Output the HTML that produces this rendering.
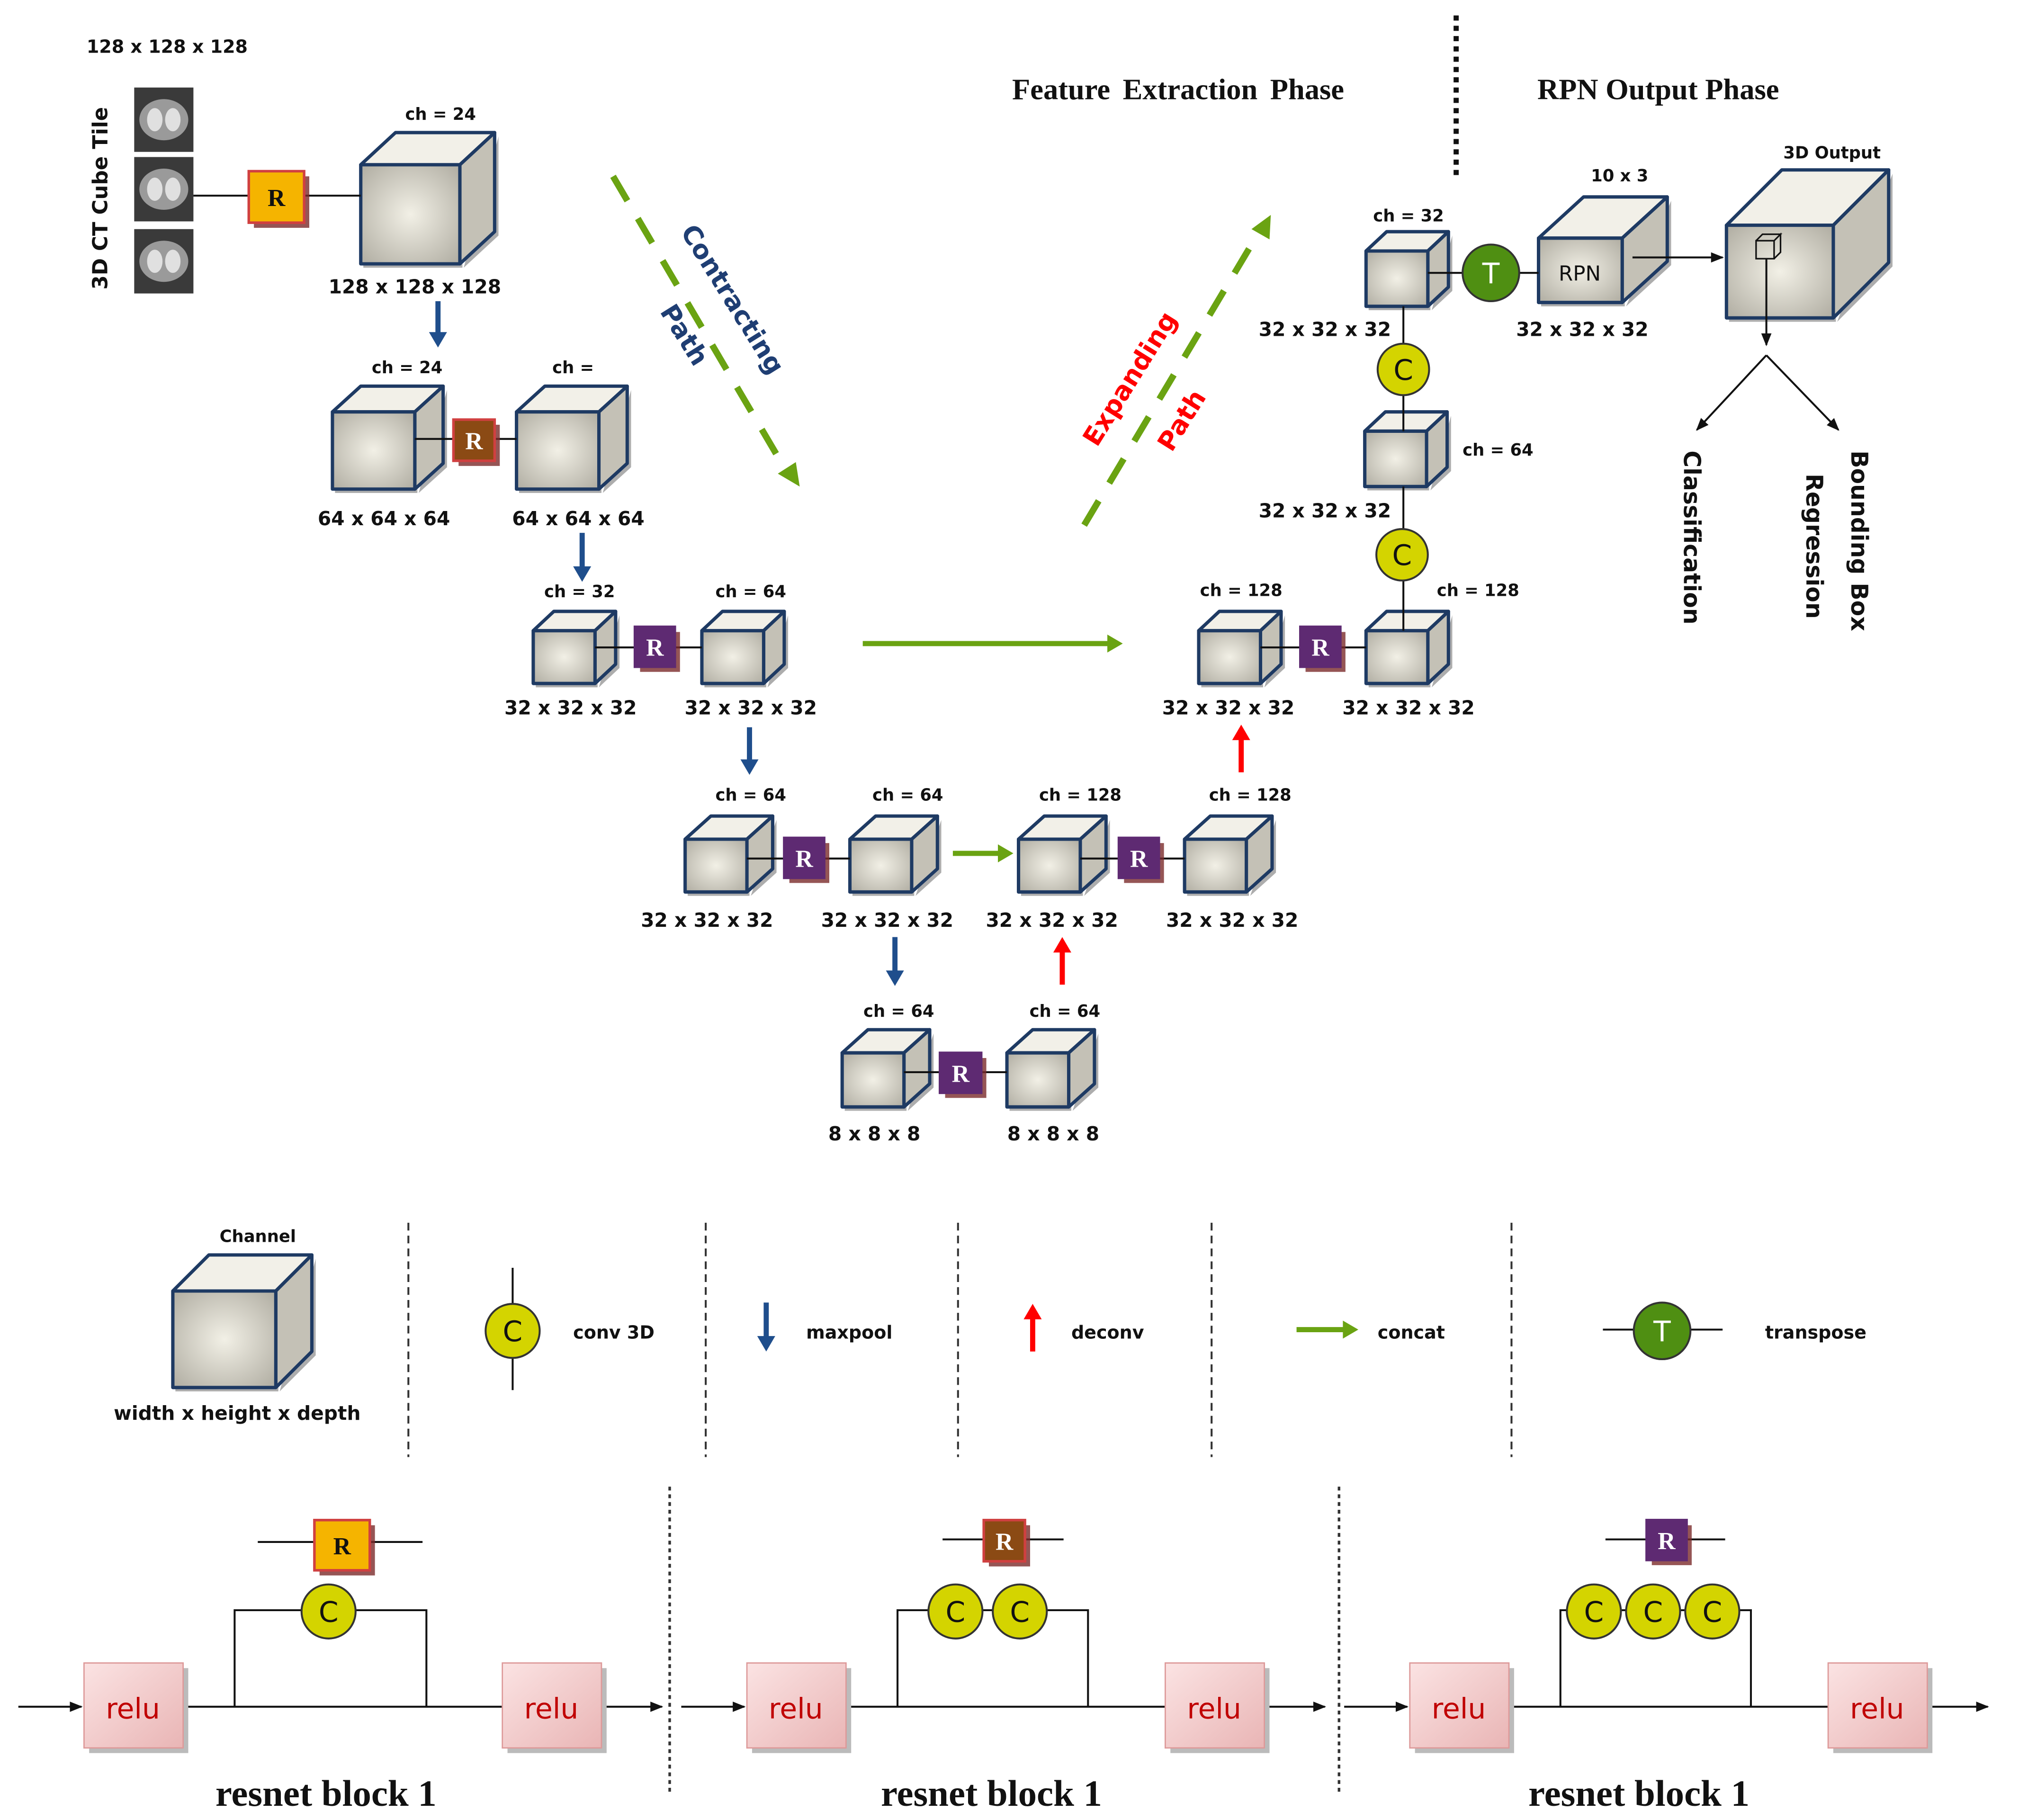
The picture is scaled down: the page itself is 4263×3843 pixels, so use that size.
<!DOCTYPE html>
<html><head><meta charset="utf-8"><style>
html,body{margin:0;padding:0;background:#fff}
svg{display:block}
text{font-family:"DejaVu Sans","Liberation Sans",sans-serif;font-weight:bold;fill:#111}
.s{font-family:"Liberation Serif",serif}
</style></head><body>
<svg id="g" width="4263" height="3843" viewBox="0 0 1568 1414" xmlns="http://www.w3.org/2000/svg">
<defs>
<radialGradient id="fg" cx="0.5" cy="0.5" r="0.65"><stop offset="0" stop-color="#f2f0e6"/><stop offset="1" stop-color="#b4b1a6"/></radialGradient>
<linearGradient id="rl" x1="0" y1="0" x2="1" y2="1"><stop offset="0" stop-color="#fbe3e3"/><stop offset="1" stop-color="#e9b5b5"/></linearGradient>
<marker id="ak" markerWidth="10" markerHeight="10" refX="9" refY="5" orient="auto" markerUnits="userSpaceOnUse"><path d="M0,1 L10,5 L0,9 z" fill="#111"/></marker>
</defs>
<g id="cubes"></g>
<g id="misc"></g>
<text x="67" y="41" font-size="14">128 x 128 x 128</text>
<text transform="translate(83,225) rotate(-90)" font-size="16">3D CT  Cube Tile</text>
<text x="342" y="93" font-size="13" text-anchor="middle">ch = 24</text>
<text x="322" y="228" font-size="15" text-anchor="middle">128 x 128 x 128</text>
<text x="316" y="290" font-size="13" text-anchor="middle">ch = 24</text>
<text x="445" y="290" font-size="13" text-anchor="middle">ch =</text>
<text x="298" y="408" font-size="15" text-anchor="middle">64 x 64 x 64</text>
<text x="449" y="408" font-size="15" text-anchor="middle">64 x 64 x 64</text>
<text x="450" y="464" font-size="13" text-anchor="middle">ch = 32</text>
<text x="583" y="464" font-size="13" text-anchor="middle">ch = 64</text>
<text x="443" y="555" font-size="15" text-anchor="middle">32 x 32 x 32</text>
<text x="583" y="555" font-size="15" text-anchor="middle">32 x 32 x 32</text>
<text x="583" y="622" font-size="13" text-anchor="middle">ch = 64</text>
<text x="705" y="622" font-size="13" text-anchor="middle">ch = 64</text>
<text x="839" y="622" font-size="13" text-anchor="middle">ch = 128</text>
<text x="971" y="622" font-size="13" text-anchor="middle">ch = 128</text>
<text x="549" y="720" font-size="15" text-anchor="middle">32 x 32 x 32</text>
<text x="689" y="720" font-size="15" text-anchor="middle">32 x 32 x 32</text>
<text x="817" y="720" font-size="15" text-anchor="middle">32 x 32 x 32</text>
<text x="957" y="720" font-size="15" text-anchor="middle">32 x 32 x 32</text>
<text x="698" y="790" font-size="13" text-anchor="middle">ch = 64</text>
<text x="827" y="790" font-size="13" text-anchor="middle">ch = 64</text>
<text x="679" y="886" font-size="15" text-anchor="middle">8 x 8 x 8</text>
<text x="818" y="886" font-size="15" text-anchor="middle">8 x 8 x 8</text>
<text x="964" y="463" font-size="13" text-anchor="middle">ch = 128</text>
<text x="1148" y="463" font-size="13" text-anchor="middle">ch = 128</text>
<text x="954" y="555" font-size="15" text-anchor="middle">32 x 32 x 32</text>
<text x="1094" y="555" font-size="15" text-anchor="middle">32 x 32 x 32</text>
<text x="1029" y="402" font-size="15" text-anchor="middle">32 x 32 x 32</text>
<text x="1136" y="354" font-size="13">ch = 64</text>
<text x="1094" y="172" font-size="13" text-anchor="middle">ch = 32</text>
<text x="1029" y="261" font-size="15" text-anchor="middle">32 x 32 x 32</text>
<text x="1229" y="261" font-size="15" text-anchor="middle">32 x 32 x 32</text>
<text x="1258" y="141" font-size="13" text-anchor="middle">10 x 3</text>
<text x="1423" y="123" font-size="13" text-anchor="middle">3D Output</text>
<text x="1227" y="218" font-size="16" text-anchor="middle" style="font-weight:normal">RPN</text>
<text class="s" x="915" y="77" font-size="23" text-anchor="middle" word-spacing="4">Feature  Extraction Phase</text>
<text class="s" x="1288" y="77" font-size="23" text-anchor="middle">RPN Output Phase</text>
<text transform="translate(528,180) rotate(58)" font-size="20" style="fill:#1f3e73">Contracting</text>
<text transform="translate(512,242) rotate(58)" font-size="20" style="fill:#1f3e73">Path</text>
<text transform="translate(852,348) rotate(-58)" font-size="20" style="fill:#f00">Expanding</text>
<text transform="translate(910,352) rotate(-58)" font-size="20" style="fill:#f00">Path</text>
<text transform="translate(1308,350) rotate(90)" font-size="18">Classification</text>
<text transform="translate(1403,368) rotate(90)" font-size="18">Regression</text>
<text transform="translate(1438,350) rotate(90)" font-size="18">Bounding Box</text>
<text x="200" y="965" font-size="13" text-anchor="middle">Channel</text>
<text x="184" y="1103" font-size="15" text-anchor="middle">width x height x  depth</text>
<text x="445" y="1040" font-size="14">conv 3D</text>
<text x="626" y="1040" font-size="14">maxpool</text>
<text x="832" y="1040" font-size="14">deconv</text>
<text x="1070" y="1040" font-size="14">concat</text>
<text x="1371" y="1040" font-size="14">transpose</text>
<text class="s" x="253" y="1403" font-size="29" text-anchor="middle">resnet block 1</text>
<text class="s" x="770" y="1403" font-size="29" text-anchor="middle">resnet block 1</text>
<text class="s" x="1273" y="1403" font-size="29" text-anchor="middle">resnet block 1</text>
<g id="labels"></g>
</svg>
<script>
var NS="http://www.w3.org/2000/svg";
function el(par,tag,a,txt){var e=document.createElementNS(NS,tag);for(var k in a)e.setAttribute(k,a[k]);if(txt)e.textContent=txt;document.getElementById(par).appendChild(e);return e;}
function cube(x,y,w,h,dx,dy){
 var c='cubes',s={stroke:'#1e3a63','stroke-width':2.6,'stroke-linejoin':'round'};
 el(c,'path',{d:'M'+(x+w+3)+','+(y+h+3)+' L'+(x+w+dx+3)+','+(y+h-dy+3)+' L'+(x+w+dx+3)+','+(y-dy+3)+' z',fill:'#777','opacity':0.6});
 el(c,'rect',{x:x+2,y:y+3,width:w,height:h,fill:'#777',opacity:0.6});
 var t=Object.assign({d:'M'+x+','+y+' L'+(x+dx)+','+(y-dy)+' L'+(x+w+dx)+','+(y-dy)+' L'+(x+w)+','+y+' z',fill:'#f2f0e8'},s);el(c,'path',t);
 t=Object.assign({d:'M'+(x+w)+','+y+' L'+(x+w+dx)+','+(y-dy)+' L'+(x+w+dx)+','+(y+h-dy)+' L'+(x+w)+','+(y+h)+' z',fill:'#c4c1b6'},s);el(c,'path',t);
 t=Object.assign({x:x,y:y,width:w,height:h,fill:'url(#fg)'},s);el(c,'rect',t);
}
function line(x1,y1,x2,y2,col,w,extra){var a={x1:x1,y1:y1,x2:x2,y2:y2,stroke:col||'#111','stroke-width':w||1.5};for(var k in extra)a[k]=extra[k];el('misc','line',a);}
function rbox(x,y,w,h,fill,brd){el('labels','rect',{x:x+4,y:y+4,width:w,height:h,fill:'#7a2a2a',opacity:0.8});el('labels','rect',{x:x,y:y,width:w,height:h,fill:fill,stroke:brd,'stroke-width':2});
 el('labels','text',{x:x+w/2,y:y+h/2+7,'font-size':19,'text-anchor':'middle',class:'s',style:'fill:'+(fill=='#f5b400'?'#111':'#fff')},'R');}
function circ(cx,cy,r,fill,L,tc){el('labels','circle',{cx:cx,cy:cy,r:r,fill:fill,stroke:'#333','stroke-width':1.5});el('labels','text',{x:cx,y:cy+8,'font-size':22,'text-anchor':'middle',style:'font-weight:normal;fill:'+(tc||'#111')},L);}
function arrowV(x,y1,y2,col){var d=y2>y1?1:-1;line(x,y1,x,y2-d*10,col,4);el('misc','path',{d:'M'+(x-7)+','+(y2-d*12)+' L'+(x+7)+','+(y2-d*12)+' L'+x+','+y2+' z',fill:col});}
function arrowH(x1,x2,y,col){line(x1,y,x2-10,y,col,4);el('misc','path',{d:'M'+(x2-12)+','+(y-7)+' L'+(x2-12)+','+(y+7)+' L'+x2+','+y+' z',fill:col});}
[[104,68],[104,122],[104,178]].forEach(function(p){el('misc','rect',{x:p[0],y:p[1],width:46,height:50,fill:'#3a3a3a'});
 el('misc','ellipse',{cx:p[0]+23,cy:p[1]+25,rx:19,ry:16,fill:'#9a9a9a'});el('misc','ellipse',{cx:p[0]+16,cy:p[1]+25,rx:6,ry:9,fill:'#e0e0e0'});el('misc','ellipse',{cx:p[0]+30,cy:p[1]+25,rx:6,ry:9,fill:'#e0e0e0'});});
line(150,152,280,152);
line(322,341,401,341);
line(462,503,545,503);
line(580,667,660,667);
line(839,667,920,667);
line(702,833,782,833);
line(979,503,1061,503);
line(1090,238,1090,335);line(1090,378,1090,490);
line(1109,212,1195,212);
cube(280,128,77,77,27,25);
cube(258,320,64,60,22,20);cube(401,320,64,60,22,20);
cube(414,490,48,41,16,15);cube(545,490,48,41,16,15);
cube(532,652,48,41,20,18);cube(660,652,48,41,20,18);cube(791,652,48,41,20,18);cube(920,652,48,41,20,18);
cube(654,818,48,42,20,18);cube(782,818,48,42,20,18);
cube(931,490,48,41,16,15);cube(1061,490,48,41,16,15);
cube(1060,335,48,43,16,15);cube(1061,195,48,43,16,15);
cube(1195,185,65,50,35,32);
cube(1341,175,83,72,43,43);
cube(134,1003,80,75,28,28);
el('misc','path',{d:'M1364,187 h14 v14 h-14 z M1364,187 l5,-5 h14 l-5,5 M1378,187 l5,-5 v14 l-5,5',fill:'none',stroke:'#111','stroke-width':1.2});
line(1372,201,1372,268,'#111',1.5,{'marker-end':'url(#ak)'});
line(1372,276,1318,334,'#111',1.5,{'marker-end':'url(#ak)'});
line(1372,276,1428,334,'#111',1.5,{'marker-end':'url(#ak)'});
line(1268,200,1338,200,'#111',1.5,{'marker-end':'url(#ak)'});
rbox(193,133,43,40,'#f5b400','#d04040');
rbox(352,326,32,32,'#8b4a14','#d04040');
rbox(493,487,31,31,'#5e2a72','#5e2a72');
rbox(609,651,31,31,'#5e2a72','#5e2a72');
rbox(869,651,31,31,'#5e2a72','#5e2a72');
rbox(730,818,32,31,'#5e2a72','#5e2a72');
rbox(1010,487,31,31,'#5e2a72','#5e2a72');
circ(1090,287,20,'#d4d400','C');circ(1089,431,20,'#d4d400','C');
circ(1158,212,22,'#4f8f12','T','#fff');
arrowV(340,234,270,'#1f4e8c');arrowV(452,414,452,'#1f4e8c');arrowV(582,565,602,'#1f4e8c');arrowV(695,728,766,'#1f4e8c');arrowV(595,1012,1050,'#1f4e8c');
arrowV(964,600,563,'#f00');arrowV(825,765,728,'#f00');arrowV(802,1050,1013,'#f00');
arrowH(670,872,500,'#6aa312');arrowH(740,787,663,'#6aa312');arrowH(1007,1055,1033,'#6aa312');
line(476,137,610,365,'#6aa312',5,{'stroke-dasharray':'22,16'});el('misc','path',{d:'M604,368 L621,378 L618,359 z',fill:'#6aa312'});
line(842,408,978,180,'#6aa312',5,{'stroke-dasharray':'22,16'});el('misc','path',{d:'M972,178 L987,167 L986,186 z',fill:'#6aa312'});
line(1131,12,1131,137,'#111',4,{'stroke-dasharray':'4,4'});
[317,548,744,941,1174].forEach(function(x){line(x,950,x,1132,'#333',1.5,{'stroke-dasharray':'6,4'});});
[520,1040].forEach(function(x){line(x,1155,x,1392,'#333',2,{'stroke-dasharray':'3,3'});});
line(398,985,398,1080);circ(398,1034,21,'#d4d400','C');
line(1245,1033,1338,1033);circ(1291,1034,22,'#4f8f12','T','#fff');
function block(ox,loopL,loopR,cs,ll,lr,ry){
 line(ox+14,1326,ox+63,1326,'#111',1.5,{'marker-end':'url(#ak)'});
 line(ox+142,1326,ox+390,1326);
 line(ox+468,1326,ox+514,1326,'#111',1.5,{'marker-end':'url(#ak)'});
 el('misc','path',{d:'M'+loopL+',1326 V1251 H'+loopR+' V1326',fill:'none',stroke:'#111','stroke-width':1.5});
 line(ll,ry,lr,ry);
 [ox+65,ox+390].forEach(function(x){el('labels','rect',{x:x+4,y:1296,width:77,height:66,fill:'#bbb'});el('labels','rect',{x:x,y:1292,width:77,height:66,fill:'url(#rl)',stroke:'#d99','stroke-width':1});el('labels','text',{x:x+38,y:1335,'font-size':22,'text-anchor':'middle',style:'font-weight:normal;fill:#c00000'},'relu');});
 cs.forEach(function(c){circ(c,1252,21,'#d4d400','C');});
}
block(0,182,331,[255],200,328,1198);
block(515,697,845,[742,792],732,826,1196);
block(1030,1212,1360,[1238,1284,1330],1247,1340,1196);
rbox(244,1181,43,39,'#f5b400','#d04040');
rbox(764,1181,32,32,'#8b4a14','#d04040');
rbox(1279,1181,31,31,'#5e2a72','#5e2a72');
</script>
</body></html>
